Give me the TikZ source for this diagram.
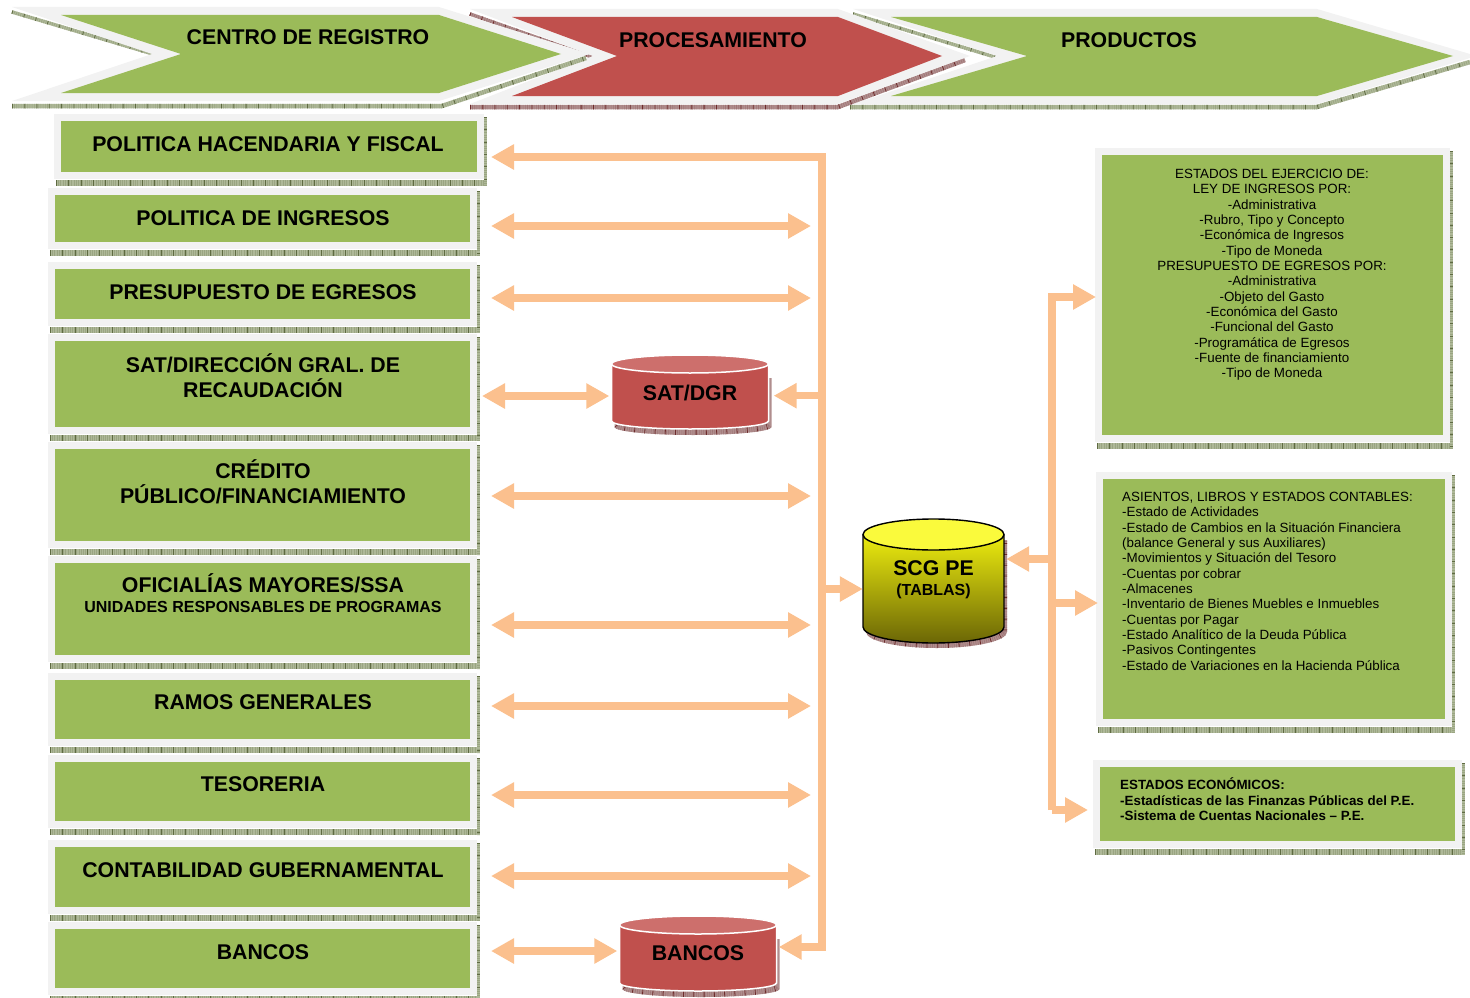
\documentclass[tikz,border=0pt]{standalone}
\usepackage{fontspec}
\setmainfont{Liberation Sans}
\usetikzlibrary{arrows.meta,calc}
\definecolor{gfill}{HTML}{9BBB59}
\definecolor{rfill}{HTML}{C0504D}
\definecolor{rlid}{HTML}{CD6F6C}
\definecolor{edgeg}{HTML}{F2F2F2}
\definecolor{peach}{HTML}{FBC08E}
\definecolor{hg}{HTML}{AEB898}
\definecolor{hgt}{HTML}{5F6B42}
\definecolor{hr}{HTML}{B08E8E}
\definecolor{hrt}{HTML}{6E2C2C}
\definecolor{ytop}{HTML}{FFFF10}
\definecolor{ymid}{HTML}{C4C20C}
\definecolor{ybot}{HTML}{6B6606}
\definecolor{ylid}{HTML}{FAFA3C}
\tikzset{
  tri/.tip={Triangle[width=24pt,length=23pt]},
  conn/.style={draw=peach,line width=7.3pt,line join=miter},
  greenbox/.style={draw=edgeg,fill=gfill,line width=7pt,inner sep=0pt},
  big/.style={inner sep=0pt,align=center,anchor=north,font=\fontsize{21.3}{25}\selectfont\bfseries},
  head/.style={inner sep=0pt,font=\fontsize{21.3}{25}\selectfont\bfseries},
  small/.style={inner sep=0pt,font=\fontsize{13.37}{15.35}\selectfont},
}
\newcommand{\hatchline}[4]{%
  \draw[line width=#3,color=#1,line cap=butt] #4;
  \draw[line width=#3,color=#2!25!#1,dash pattern=on .6pt off 1.6pt] #4;
  \draw[line width=#3,color=#2,dash pattern=on .8pt off 11.5pt] #4;}
\newcommand{\gbox}[5]{% name, green x1,y1,x2,y2
  \hatchline{hg}{hgt}{5.5pt}{({#2-5},{#5+11}) -- ({#4+9},{#5+11})}
  \hatchline{hg}{hgt}{2.5pt}{({#4+8.5},{#3-4}) -- ({#4+8.5},{#5+14})}
  \pgfmathsetmacro\bw{#4-#2+7}\pgfmathsetmacro\bh{#5-#3+7}
  \node[greenbox,minimum width=\bw pt,minimum height=\bh pt] (#1) at ({(#2+#4)/2},{(#3+#5)/2}) {};}
\newcommand{\lbl}[4]{\node[big] (#1) at (#2,{#3-13}) {\rule{0pt}{21pt}#4};}
\newcommand{\redcyl}[6]{% name cx ytop ybottom halfwidth label
  \pgfmathsetmacro\xa{#2-#5}\pgfmathsetmacro\xb{#2+#5}
  \begin{scope}
  \path[clip] ({\xa+3},{#3+14}) -- ({\xa+3},{#4+6}) arc[start angle=180,end angle=360,x radius=#5 pt,y radius=8pt] -- ({\xb+3},{#3+14}) -- cycle;
  \fill[hr] ({\xa},{#3}) rectangle ({\xb+5},{#4+20});
  \draw[hrt!25!hr,line width=14pt,dash pattern=on .6pt off 1.6pt] ({\xa+3},{#4+6}) arc[start angle=180,end angle=360,x radius=#5 pt,y radius=8pt];
  \draw[hrt,line width=14pt,dash pattern=on .8pt off 9.5pt] ({\xa+3},{#4+6}) arc[start angle=180,end angle=360,x radius=#5 pt,y radius=8pt];
  \end{scope}
  \draw[white,line width=1.5pt,fill=rfill] (\xa,#3) -- (\xa,#4) arc[start angle=180,end angle=360,x radius=#5 pt,y radius=8pt] -- (\xb,#3) arc[start angle=0,end angle=180,x radius=#5 pt,y radius=9pt] -- cycle;
  \draw[white,line width=1.5pt,fill=rlid] (#2,#3) ellipse[x radius=#5 pt,y radius=9pt];
  \node[inner sep=0pt,minimum width=2*#5 pt,minimum height=70pt,font=\fontsize{21.3}{25}\selectfont\bfseries] (#1) at (#2,{#3+28.5}) {#6};}
\begin{document}
\begin{tikzpicture}[x=1pt,y=-1pt]
\useasboundingbox (0,0) rectangle (1470,998);
% --- chevrons
\hatchline{hg}{hgt}{3.5pt}{(853,14) -- (995,57)}
\hatchline{hg}{hgt}{4.5pt}{(850,107) -- (1317,107) -- (1470,62)}
\path[fill=edgeg] (853,9) -- (1317,9) -- (1470,54) -- (1470,58) -- (1317,104) -- (853,104) -- (997,56) -- cycle;
\path[fill=gfill] (891,17) -- (1317,17) -- (1453,56) -- (1317,96) -- (891,96) -- (1027,56) -- cycle;
\node[head] (tproductos) at (1129,40) {PRODUCTOS};
\hatchline{hr}{hrt}{3.5pt}{(470,14) -- (592,57)}
\hatchline{hr}{hrt}{4.5pt}{(470,107) -- (838,107) -- (965,60)}
\path[fill=edgeg] (470,9) -- (838,9) -- (970,56) -- (838,104) -- (470,104) -- (593,56) -- cycle;
\path[fill=rfill] (512,17) -- (838,17) -- (942,56) -- (838,96) -- (512,96) -- (617,56) -- cycle;
\node[head] (tproceso) at (713,40) {PROCESAMIENTO};
\hatchline{hg}{hgt}{3.5pt}{(12,12) -- (153,54)}
\hatchline{hg}{hgt}{4.5pt}{(12,106) -- (442,106) -- (586,58)}
\path[fill=edgeg] (12,7) -- (439,7) -- (590,54) -- (439,101) -- (12,101) -- (152,54) -- cycle;
\path[fill=gfill] (61,15) -- (439,15) -- (561,54) -- (439,93) -- (61,93) -- (181,54) -- cycle;
\node[head] (tcentro) at (308,37) {CENTRO DE REGISTRO};
% --- left boxes
\gbox{b1}{61}{121}{477}{172}
\gbox{b2}{55}{195}{470}{242}
\gbox{b3}{55}{269}{470}{319}
\gbox{b4}{55}{341}{470}{427}
\gbox{b5}{55}{449}{470}{541}
\gbox{b6}{55}{563}{470}{655}
\gbox{b7}{55}{680}{470}{739}
\gbox{b8}{55}{762}{470}{821}
\gbox{b9}{55}{847}{470}{907}
\gbox{b10}{55}{929}{470}{988}
\lbl{t1}{268}{143}{POLITICA HACENDARIA Y FISCAL}
\lbl{t2}{263}{217}{POLITICA DE INGRESOS}
\lbl{t3}{263}{291}{PRESUPUESTO DE EGRESOS}
\lbl{t4}{263}{364}{SAT/DIRECCIÓN GRAL. DE\\RECAUDACIÓN}
\lbl{t5}{263}{470}{CRÉDITO\\PÚBLICO/FINANCIAMIENTO}
\lbl{t6}{263}{584}{OFICIALÍAS MAYORES/SSA\\[-4.5pt]{\fontsize{16}{18}\selectfont UNIDADES RESPONSABLES DE PROGRAMAS}}
\lbl{t7}{263}{701}{RAMOS GENERALES}
\lbl{t8}{263}{783}{TESORERIA}
\lbl{t9}{263}{869}{CONTABILIDAD GUBERNAMENTAL}
\lbl{t10}{263}{951}{BANCOS}
% --- right boxes
\gbox{r1}{1102}{155}{1443}{435}
\gbox{r2}{1103}{479}{1445}{719}
\gbox{r3}{1100}{767}{1455}{841}
\node[small,anchor=north,align=center] (tr1) at (1272,166.2) {\rule{0pt}{12pt}ESTADOS DEL EJERCICIO DE:\\LEY DE INGRESOS POR:\\-Administrativa\\-Rubro, Tipo y Concepto\\-Económica de Ingresos\\-Tipo de Moneda\\PRESUPUESTO DE EGRESOS POR:\\-Administrativa\\-Objeto del Gasto\\-Económica del Gasto\\-Funcional del Gasto\\-Programática de Egresos\\-Fuente de financiamiento\\-Tipo de Moneda};
\node[small,anchor=north west,align=left] (tr2) at (1122,489.2) {\rule{0pt}{12pt}ASIENTOS, LIBROS Y ESTADOS CONTABLES:\\-Estado de Actividades\\-Estado de Cambios en la Situación Financiera\\(balance General y sus Auxiliares)\\-Movimientos y Situación del Tesoro\\-Cuentas por cobrar\\-Almacenes\\-Inventario de Bienes Muebles e Inmuebles\\-Cuentas por Pagar\\-Estado Analítico de la Deuda Pública\\-Pasivos Contingentes\\-Estado de Variaciones en la Hacienda Pública};
\node[small,anchor=north west,align=left,font=\fontsize{13.37}{15.35}\selectfont\bfseries] (tr3) at (1120,777.7) {\rule{0pt}{12pt}ESTADOS ECONÓMICOS:\\-Estadísticas de las Finanzas Públicas del P.E.\\-Sistema de Cuentas Nacionales – P.E.};
% --- cylinders
\redcyl{sat}{690}{364}{421}{78.5}{SAT/DGR}
\redcyl{banco}{698}{925}{983}{78.5}{BANCOS}
\begin{scope}
\path[clip] (866,540) -- (866,632) arc[start angle=180,end angle=360,x radius=70.5pt,y radius=16pt] -- (1007,540) -- cycle;
\fill[hr] (860,530) rectangle (1010,660);
\draw[hrt!25!hr,line width=12pt,dash pattern=on .6pt off 1.6pt] (866,632) arc[start angle=180,end angle=360,x radius=70.5pt,y radius=16pt] -- (1007,540);
\draw[hrt,line width=12pt,dash pattern=on .8pt off 10pt] (866,632) arc[start angle=180,end angle=360,x radius=70.5pt,y radius=16pt] -- (1007,540);
\end{scope}
\shade[top color=ytop,middle color=ymid,bottom color=ybot]
  (863,535) -- (863,627) arc[start angle=180,end angle=360,x radius=70.5pt,y radius=16pt] -- (1004,535) arc[start angle=0,end angle=180,x radius=70.5pt,y radius=15.5pt] -- cycle;
\draw[black,line width=1.4pt] (863,535) -- (863,627) arc[start angle=180,end angle=360,x radius=70.5pt,y radius=16pt] -- (1004,535);
\draw[black,line width=1.4pt,fill=ylid] (933.5,534.5) ellipse[x radius=70.5pt,y radius=15.5pt];
\node[inner sep=0pt,align=center,minimum width=141pt,minimum height=124pt] (scg) at (933.5,579.5) {\fontsize{21.3}{22}\selectfont\bfseries SCG PE\\[8pt]\fontsize{16}{20}\selectfont\bfseries (TABLAS)};
% --- left connectors
\coordinate (busTop) at (822,157);
\coordinate (busBot) at (822,947);
\coordinate (busSat) at (822,395.7);
\coordinate (busScg) at (822,589);
\draw[conn,{tri}-{tri}] ($(b1.east|-busTop)+(7,0)$) -- (busTop) -- (busBot) -- ($(banco.east|-busBot)+(2,0)$);
\draw[conn,-{tri}] (busSat) -- ($(sat.east|-busSat)+(5,0)$);
\draw[conn,-{tri}] (busScg) -- ($(scg.west|-busScg)$);
\foreach \n/\yy in {b2/226,b3/298,b5/496,b6/625,b7/706,b8/795,b9/876}{
  \coordinate (end\n) at (811,\yy);
  \draw[conn,{tri}-{tri}] ($(\n.east|-end\n)+(14,0)$) -- (end\n);
}
\coordinate (ysat) at (0,396);
\coordinate (ybanco) at (0,951);
\draw[conn,{tri}-{tri}] ($(b4.east|-ysat)+(5,0)$) -- ($(sat.west|-ysat)+(-2,0)$);
\draw[conn,{tri}-{tri}] ($(b10.east|-ybanco)+(14,0)$) -- ($(banco.west|-ybanco)+(-2,0)$);
% --- right connectors
\coordinate (rTop) at (1052,297);
\coordinate (rBot) at (1052,810);
\coordinate (rScg) at (1052,559);
\coordinate (rTwo) at (1052,603);
\coordinate (tipA) at ($(r1.west|-rTop)+(1,0)$);
\draw[conn,-{tri}] (rBot) -- (rTop) -- (tipA);
\draw[conn,-{tri}] (rBot) -- ($(r3.west|-rBot)+(-5,0)$);
\draw[conn,-{tri}] (rScg) -- ($(scg.east|-rScg)+(2,0)$);
\draw[conn,-{tri}] (rTwo) -- ($(r2.west|-rTwo)+(2,0)$);
\end{tikzpicture}
\end{document}
